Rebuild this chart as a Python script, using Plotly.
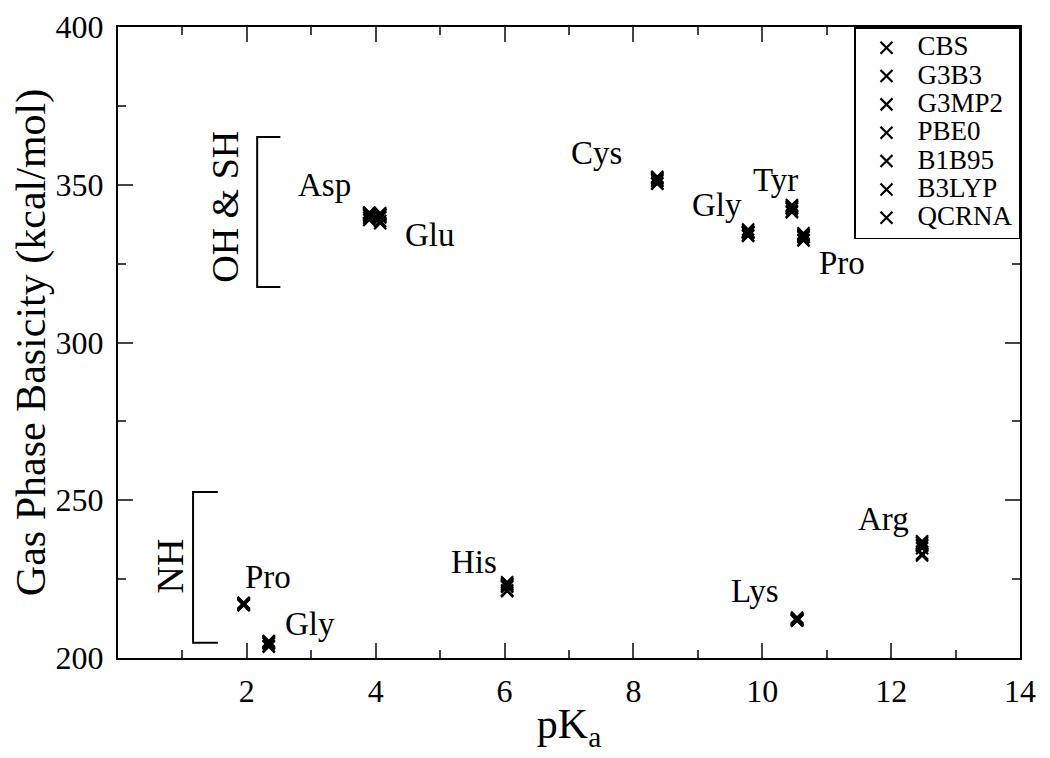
import plotly.graph_objects as go

methods = ["CBS", "G3B3", "G3MP2", "PBE0", "B1B95", "B3LYP", "QCRNA"]
residues = ["Asp", "Glu", "Cys", "Gly", "Tyr", "Pro", "Pro", "Gly", "His", "Lys", "Arg"]
pka = [3.90, 4.07, 8.37, 9.78, 10.46, 10.64, 1.95, 2.34, 6.04, 10.54, 12.48]

gpb = {
    "CBS":   [341.0, 340.5, 352.0, 335.0, 343.0, 334.0, 217.2, 205.0, 223.5, 212.4, 236.5],
    "G3B3":  [340.5, 340.0, 351.5, 334.7, 342.6, 333.5, 217.0, 204.6, 222.8, 212.1, 235.5],
    "G3MP2": [340.8, 340.6, 352.2, 335.2, 343.2, 334.2, 217.3, 205.1, 223.2, 212.5, 236.0],
    "PBE0":  [339.5, 338.5, 350.5, 334.0, 341.6, 332.5, 216.8, 203.8, 221.5, 211.9, 233.0],
    "B1B95": [341.2, 341.0, 352.5, 335.8, 343.6, 334.6, 217.5, 205.4, 224.0, 212.8, 237.0],
    "B3LYP": [338.8, 337.8, 350.3, 333.8, 341.3, 332.3, 216.7, 203.6, 221.2, 211.8, 232.5],
    "QCRNA": [340.2, 339.6, 351.2, 334.9, 342.5, 333.4, 217.1, 204.7, 222.6, 212.2, 234.8],
}

# residue label positions (data coords)
label_x = [3.21, 4.84, 7.42, 9.30, 10.20, 11.23, 2.33, 2.98, 5.53, 9.89, 11.88]
label_y = [349.9, 334.0, 360.1, 343.6, 351.5, 325.2, 225.7, 210.8, 230.4, 221.2, 244.0]

group_labels = ["OH & SH", "NH"]
group_label_x = [1.66, 0.80]
group_label_y = [343.0, 229.2]
# brackets: (vertical x, arm end x, bottom y, top y)
brackets = [
    (2.16, 2.52, 317.6, 365.1),
    (1.165, 1.55, 204.8, 252.6),
]

x_ticks = [2, 4, 6, 8, 10, 12, 14]
y_ticks = [200, 250, 300, 350, 400]

FONT = "Liberation Serif, Times New Roman, serif"

fig = go.Figure()
for m in methods:
    fig.add_trace(go.Scatter(
        x=pka, y=gpb[m], mode="markers",
        name=f"<span style='font-size:27px'>{m}</span>",
        marker=dict(symbol="x-thin", size=12, color="black",
                    line=dict(width=2.2, color="black")),
    ))

annotations = []
for t, lx, ly in zip(residues, label_x, label_y):
    annotations.append(dict(x=lx, y=ly, text=t, showarrow=False,
                            font=dict(family=FONT, size=33, color="black")))
for t, lx, ly in zip(group_labels, group_label_x, group_label_y):
    annotations.append(dict(x=lx, y=ly, text=t, textangle=-90, showarrow=False,
                            font=dict(family=FONT, size=38, color="black")))

shapes = []
for xv, xe, y0, y1 in brackets:
    shapes.append(dict(type="path", xref="x", yref="y",
                       path=f"M {xe},{y1} L {xv},{y1} L {xv},{y0} L {xe},{y0}",
                       line=dict(color="black", width=2)))

fig.update_layout(
    width=1042, height=750,
    margin=dict(l=110, r=30, t=19, b=100, autoexpand=False),
    plot_bgcolor="white", paper_bgcolor="white",
    font=dict(family=FONT, size=30, color="black"),
    annotations=annotations, shapes=shapes,
    showlegend=True,
    legend=dict(x=1, y=1, xanchor="right", yanchor="top",
                bordercolor="black", borderwidth=1.5, bgcolor="white",
                font=dict(family=FONT, size=19.5, color="black"),
                tracegroupgap=0, itemwidth=52),
    xaxis=dict(range=[0, 14], tickvals=x_ticks, ticks="inside", ticklen=15, tickwidth=1.5,
               showline=True, linecolor="black", linewidth=2, mirror="allticks",
               showgrid=False, zeroline=False, ticklabelstandoff=4, automargin=False,
               minor=dict(dtick=1, tick0=0, ticks="inside", ticklen=8, tickwidth=1.5, showgrid=False),
               tickfont=dict(family=FONT, size=32),
               title=dict(text="pK<sub>a</sub>", font=dict(family=FONT, size=42), standoff=0)),
    yaxis=dict(range=[200, 400], tickvals=y_ticks, ticks="inside", ticklen=15, tickwidth=1.5,
               showline=True, linecolor="black", linewidth=2, mirror="allticks",
               showgrid=False, zeroline=False, ticklabelstandoff=6, automargin=False,
               minor=dict(dtick=25, tick0=200, ticks="inside", ticklen=8, tickwidth=1.5, showgrid=False),
               tickfont=dict(family=FONT, size=32),
               title=dict(text="Gas Phase Basicity (kcal/mol)", font=dict(family=FONT, size=42), standoff=20)),
)

fig.write_html("out.html")
